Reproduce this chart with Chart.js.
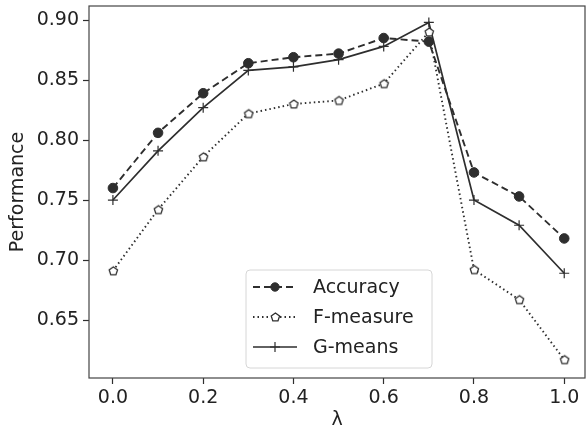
<!DOCTYPE html>
<html>
<head>
<meta charset="utf-8">
<script src="https://cdn.jsdelivr.net/npm/chart.js@4/dist/chart.umd.min.js"></script>
<style>
  html, body { margin: 0; padding: 0; background: #fff; }
  #wrap { width: 586px; height: 434px; }
</style>
</head>
<body>
<div id="wrap"><canvas id="myChart" width="586" height="434"></canvas></div>
<script>
// значення
const lambdas = [0.0, 0.1, 0.2, 0.3, 0.4, 0.5, 0.6, 0.7, 0.8, 0.9, 1.0];
const accuracy = [0.760, 0.806, 0.839, 0.864, 0.869, 0.872, 0.885, 0.882, 0.773, 0.753, 0.718];
const fMeasure = [0.691, 0.742, 0.786, 0.822, 0.830, 0.833, 0.847, 0.890, 0.692, 0.667, 0.617];
const gMeans = [0.750, 0.791, 0.827, 0.858, 0.861, 0.867, 0.878, 0.898, 0.750, 0.729, 0.689];

const xTicks = [0.0, 0.2, 0.4, 0.6, 0.8, 1.0];
const yTicks = [0.65, 0.70, 0.75, 0.80, 0.85, 0.90];

const ink = '#2e2e2e';
const font = "'DejaVu Sans', sans-serif";

// п'ятикутник для F-measure
function makePentagon(r) {
  const c = document.createElement('canvas');
  const s = r * 2 + 4;
  c.width = s; c.height = s;
  const g = c.getContext('2d');
  g.beginPath();
  for (let i = 0; i < 5; i++) {
    const a = -Math.PI / 2 + i * 2 * Math.PI / 5;
    const px = s / 2 + r * Math.cos(a);
    const py = s / 2 + r * Math.sin(a);
    if (i == 0) g.moveTo(px, py); else g.lineTo(px, py);
  }
  g.closePath();
  g.fillStyle = '#fff';
  g.fill();
  g.lineWidth = 1.3;
  g.strokeStyle = ink;
  g.stroke();
  return c;
}
const pentagon = makePentagon(4.4);

function toPoints(arr) {
  return lambdas.map((x, i) => ({x: x, y: arr[i]}));
}

// рамка навколо області графіка
const boxPlugin = {
  id: 'box',
  afterDraw(chart) {
    const a = chart.chartArea;
    const ctx = chart.ctx;
    ctx.save();
    ctx.strokeStyle = '#444';
    ctx.lineWidth = 1.2;
    ctx.strokeRect(a.left, a.top, a.right - a.left, a.bottom - a.top);
    ctx.restore();
  }
};

// легенда всередині графіка, як у matplotlib
const legendPlugin = {
  id: 'innerLegend',
  afterDraw(chart) {
    const ctx = chart.ctx;
    const x0 = 246, y0 = 270, w = 186, h = 98;
    ctx.save();
    ctx.beginPath();
    ctx.roundRect(x0, y0, w, h, 4);
    ctx.fillStyle = 'rgba(255,255,255,0.85)';
    ctx.fill();
    ctx.strokeStyle = '#d6d6d6';
    ctx.lineWidth = 1;
    ctx.stroke();

    const rows = [287, 317, 347];
    chart.data.datasets.forEach((ds, i) => {
      const y = rows[i];
      ctx.beginPath();
      ctx.setLineDash(ds.borderDash || []);
      ctx.strokeStyle = ds.borderColor;
      ctx.lineWidth = ds.borderWidth;
      ctx.moveTo(253, y);
      ctx.lineTo(297, y);
      ctx.stroke();
      ctx.setLineDash([]);
      ctx.fillStyle = ds.pointBackgroundColor;
      ctx.strokeStyle = ds.borderColor;
      ctx.lineWidth = ds.pointBorderWidth;
      Chart.helpers.drawPoint(ctx, {
        pointStyle: ds.pointStyle,
        radius: ds.legendRadius,
        borderWidth: ds.pointBorderWidth
      }, 275, y);
      ctx.fillStyle = '#222';
      ctx.font = '19px ' + font;
      ctx.textBaseline = 'middle';
      ctx.fillText(ds.label, 313, y + 1);
    });
    ctx.restore();
  }
};

new Chart('myChart', {
  type: 'line',
  data: {
    datasets: [
      {
        label: 'Accuracy',
        data: toPoints(accuracy),
        borderColor: ink,
        backgroundColor: ink,
        pointBackgroundColor: ink,
        borderWidth: 1.9,
        borderDash: [7, 4],
        pointStyle: 'circle',
        pointRadius: 4.8,
        legendRadius: 4.2,
        pointBorderWidth: 1
      },
      {
        label: 'F-measure',
        data: toPoints(fMeasure),
        borderColor: ink,
        backgroundColor: '#fff',
        pointBackgroundColor: '#fff',
        borderWidth: 1.9,
        borderDash: [1.5, 3],
        pointStyle: pentagon,
        pointRadius: 5,
        legendRadius: 4,
        pointBorderWidth: 1.2
      },
      {
        label: 'G-means',
        data: toPoints(gMeans),
        borderColor: ink,
        backgroundColor: ink,
        pointBackgroundColor: ink,
        borderWidth: 1.7,
        pointStyle: 'cross',
        pointRadius: 5,
        legendRadius: 5,
        pointBorderWidth: 1.2
      }
    ]
  },
  options: {
    responsive: false,
    animation: false,
    layout: { autoPadding: false, padding: { top: 6, right: 1, left: 0, bottom: 0 } },
    plugins: {
      legend: { display: false },
      tooltip: { enabled: false }
    },
    elements: { line: { tension: 0 } },
    scales: {
      x: {
        type: 'linear',
        min: -0.053,
        max: 1.046,
        afterBuildTicks: s => { s.ticks = xTicks.map(v => ({value: v})); },
        afterFit: s => { s.height = 56; s.paddingLeft = 0; s.paddingRight = 0; },
        grid: { display: true, drawOnChartArea: false, drawTicks: true, tickLength: 6, color: ink, tickWidth: 1.2 },
        border: { display: false },
        ticks: {
          color: '#222',
          padding: 3,
          maxRotation: 0,
          font: { family: font, size: 19 },
          callback: v => v.toFixed(1)
        },
        title: {
          display: true,
          text: 'λ',
          color: '#222',
          padding: { top: 0, bottom: 3 },
          font: { family: font, size: 19 }
        }
      },
      y: {
        min: 0.6017,
        max: 0.9117,
        afterBuildTicks: s => { s.ticks = yTicks.map(v => ({value: v})); },
        afterFit: s => { s.width = 89; s.paddingTop = 0; s.paddingBottom = 0; },
        grid: { display: true, drawOnChartArea: false, drawTicks: true, tickLength: 6, color: ink, tickWidth: 1.2 },
        border: { display: false },
        ticks: {
          color: '#222',
          padding: 4,
          font: { family: font, size: 19 },
          callback: v => v.toFixed(2)
        },
        title: {
          display: true,
          text: 'Performance',
          color: '#222',
          padding: { top: 7, bottom: 6 },
          font: { family: font, size: 19 }
        }
      }
    }
  },
  plugins: [boxPlugin, legendPlugin]
});
</script>
</body>
</html>
